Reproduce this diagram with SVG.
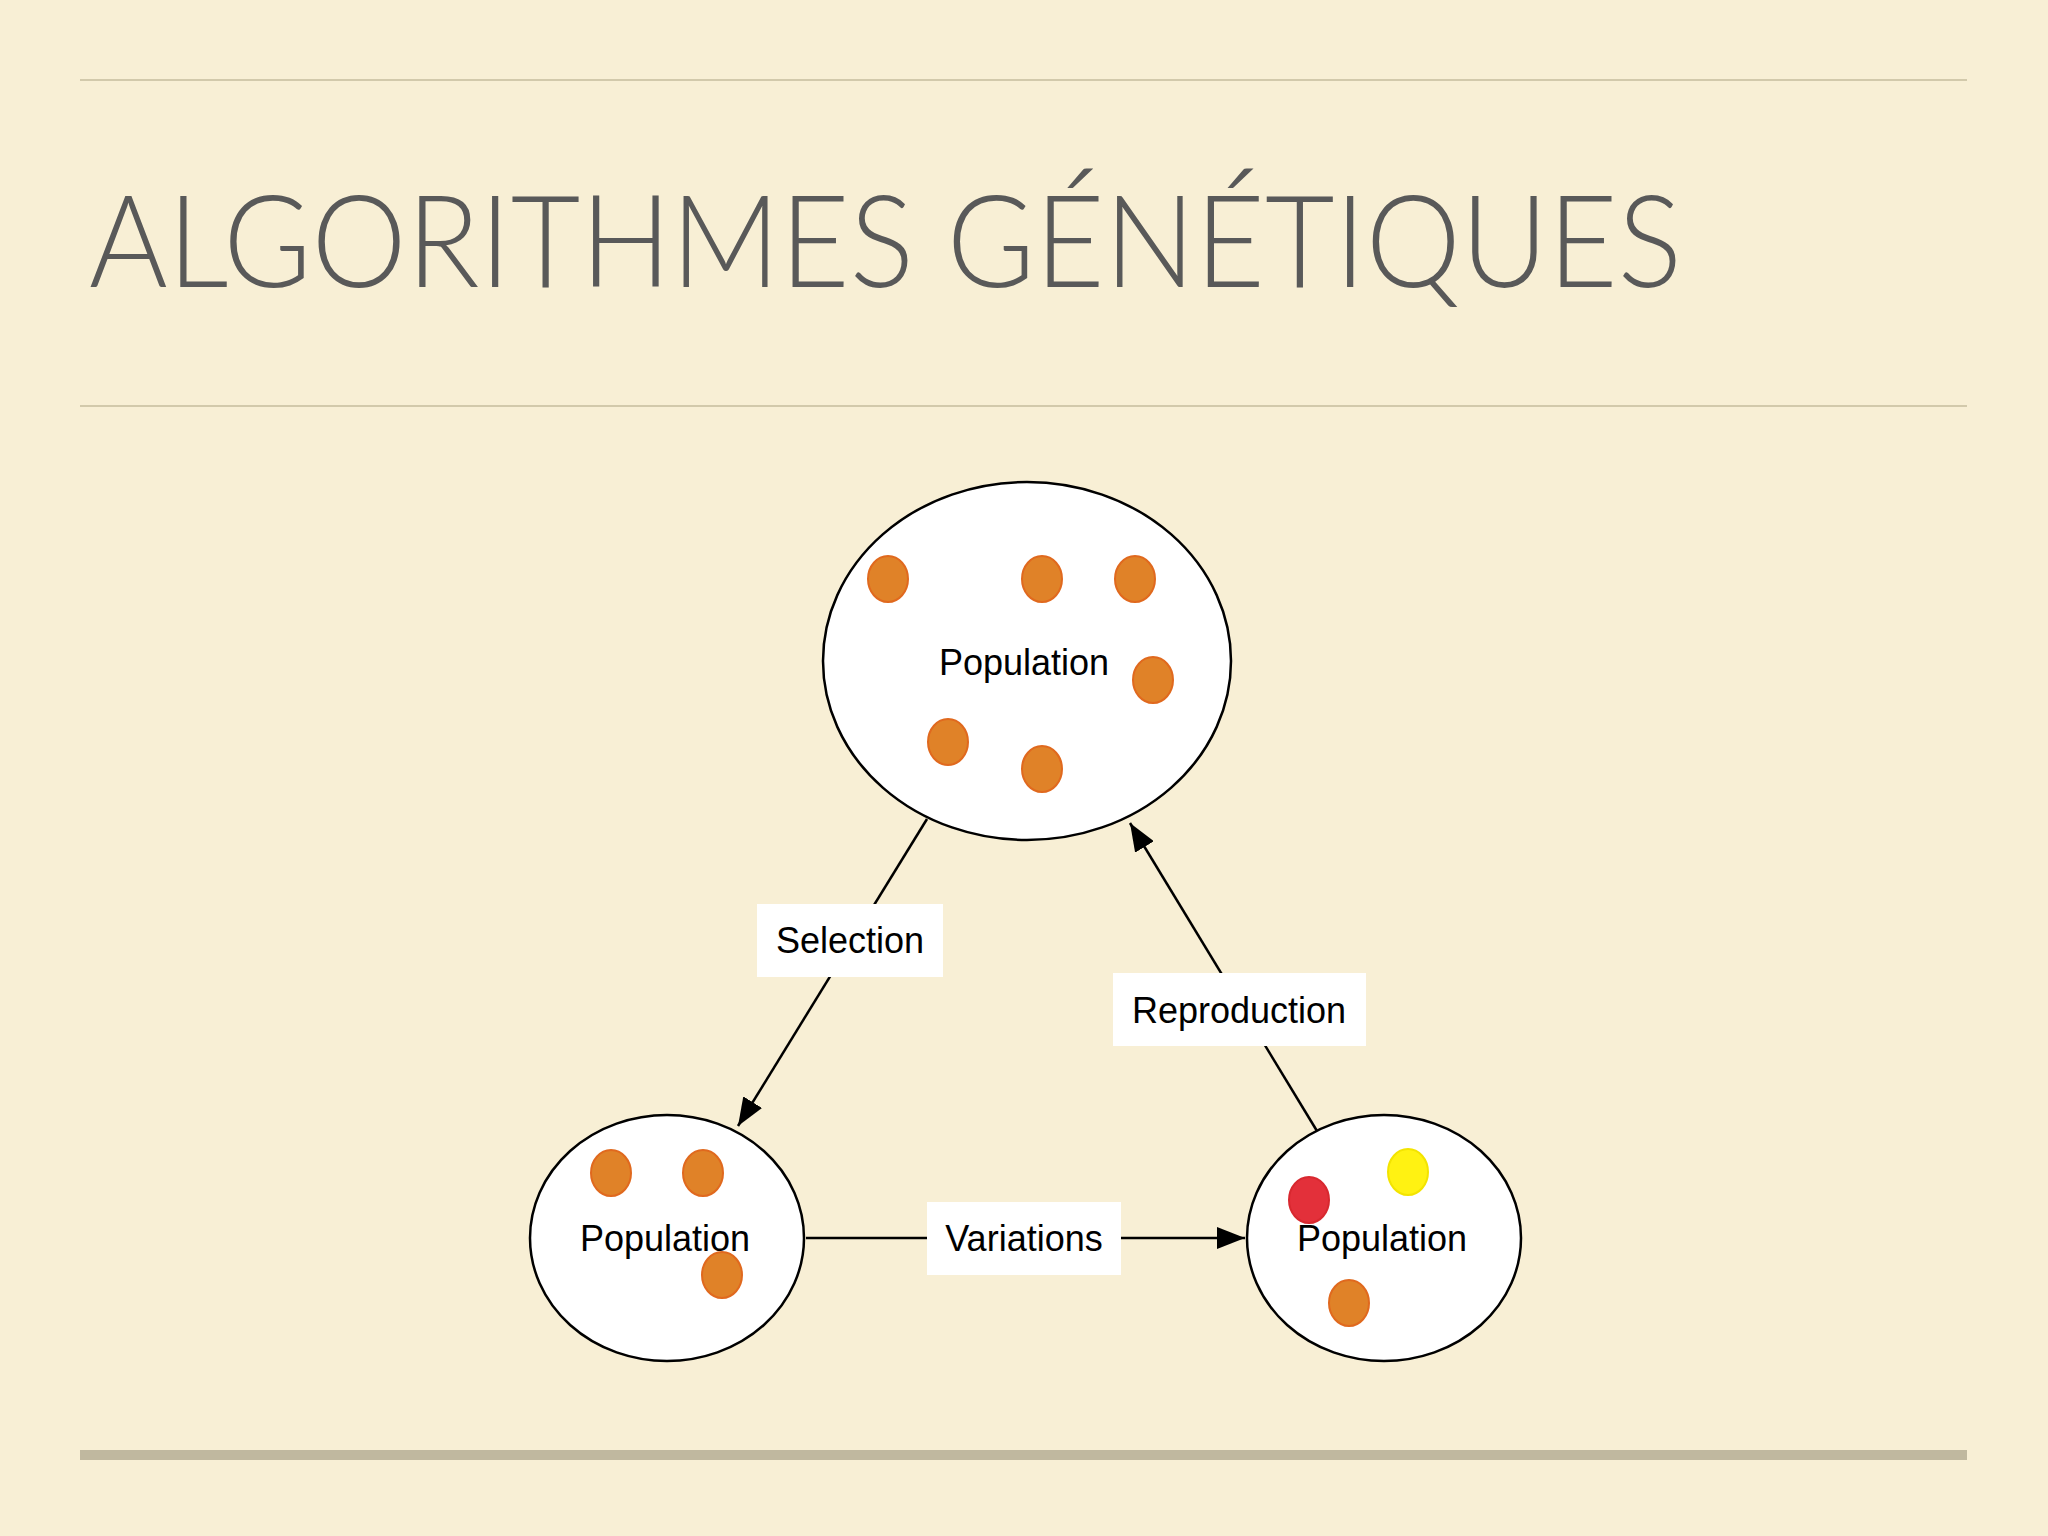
<svg xmlns="http://www.w3.org/2000/svg" width="2048" height="1536" viewBox="0 0 2048 1536">
<defs>
<style>
.pop{fill:#fff;stroke:#000;stroke-width:2.5}
.dot{fill:#e08228;stroke:#e0691e;stroke-width:2}
.lbl{font-family:"Liberation Sans",Arial,sans-serif;font-size:36px;fill:#000;text-anchor:middle;dominant-baseline:central}
.box{fill:#fff}
.edge{stroke:#000;stroke-width:2.5;fill:none}
</style>
<marker id="arrL" markerWidth="28" markerHeight="22" refX="28" refY="11" orient="auto" markerUnits="userSpaceOnUse" viewBox="0 0 28 22">
<path d="M0,0 L28,11 L0,22 Z" fill="#000"/>
</marker>
</defs>
<rect width="2048" height="1536" fill="#f8efd5"/>
<line x1="80" y1="80" x2="1967" y2="80" stroke="#d2c9ab" stroke-width="2"/>
<line x1="80" y1="406" x2="1967" y2="406" stroke="#d2c9ab" stroke-width="2"/>
<line x1="80" y1="1455" x2="1967" y2="1455" stroke="#c0b89f" stroke-width="10"/>
<text x="89" y="287" font-family="Lato,'Open Sans',sans-serif" font-weight="300" font-size="128" fill="#595959" textLength="1593" lengthAdjust="spacingAndGlyphs">ALGORITHMES GÉNÉTIQUES</text>
<g id="connectors">
<line class="edge" x1="927" y1="819" x2="738" y2="1126" marker-end="url(#arrL)"/>
<line class="edge" x1="1317" y1="1131" x2="1130" y2="823" marker-end="url(#arrL)"/>
<line class="edge" x1="806" y1="1238" x2="1245" y2="1238" marker-end="url(#arrL)"/>
<g id="label-selection"><rect class="box" x="757" y="904" width="186" height="73"/><text class="lbl" x="850" y="940">Selection</text></g>
<g id="label-reproduction"><rect class="box" x="1113" y="973" width="253" height="73"/><text class="lbl" x="1239" y="1010">Reproduction</text></g>
<g id="label-variations"><rect class="box" x="927" y="1202" width="194" height="73"/><text class="lbl" x="1024" y="1238">Variations</text></g>
</g>
<g id="pop-top">
<ellipse class="pop" cx="1027" cy="661" rx="204" ry="179"/>
<text class="lbl" x="1024" y="662">Population</text>
<ellipse class="dot" cx="888" cy="579" rx="20" ry="23"/>
<ellipse class="dot" cx="1042" cy="579" rx="20" ry="23"/>
<ellipse class="dot" cx="1135" cy="579" rx="20" ry="23"/>
<ellipse class="dot" cx="1153" cy="680" rx="20" ry="23"/>
<ellipse class="dot" cx="948" cy="742" rx="20" ry="23"/>
<ellipse class="dot" cx="1042" cy="769" rx="20" ry="23"/>
</g>
<g id="pop-left">
<ellipse class="pop" cx="667" cy="1238" rx="137" ry="123"/>
<ellipse class="dot" cx="611" cy="1173" rx="20" ry="23"/>
<ellipse class="dot" cx="703" cy="1173" rx="20" ry="23"/>
<text class="lbl" x="665" y="1238">Population</text>
<ellipse class="dot" cx="722" cy="1275" rx="20" ry="23"/>
</g>
<g id="pop-right">
<ellipse class="pop" cx="1384" cy="1238" rx="137" ry="123"/>
<ellipse cx="1408" cy="1172" rx="20" ry="23" fill="#fff212" stroke="#f3e400" stroke-width="2"/>
<ellipse cx="1309" cy="1200" rx="20" ry="23" fill="#e3303a" stroke="#d8282f" stroke-width="2"/>
<text class="lbl" x="1382" y="1238">Population</text>
<ellipse class="dot" cx="1349" cy="1303" rx="20" ry="23"/>
</g>
</svg>
